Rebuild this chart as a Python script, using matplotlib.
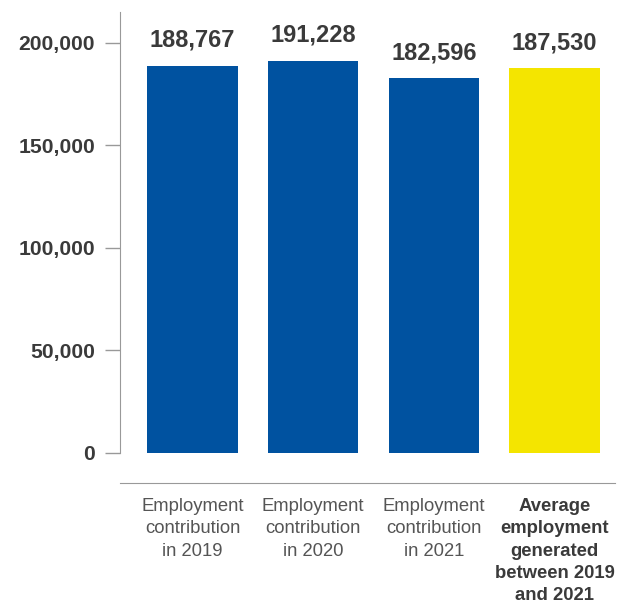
import matplotlib
matplotlib.use("Agg")
import matplotlib.pyplot as plt

categories = ["Employment\ncontribution\nin 2019",
              "Employment\ncontribution\nin 2020",
              "Employment\ncontribution\nin 2021",
              "Average\nemployment\ngenerated\nbetween 2019\nand 2021"]
values = [188767, 191228, 182596, 187530]
colors = ["#0052a0", "#0052a0", "#0052a0", "#f4e500"]
yticks = [0, 50000, 100000, 150000, 200000]

plt.rcParams['font.family'] = ['Liberation Sans', 'DejaVu Sans']
txt = "#3a3a3a"

fig = plt.figure(figsize=(6.23, 6.03), dpi=100)
ax = fig.add_axes([120/623, 1-453/603, (615-120)/623, (453-12)/603])

for s in ['top', 'right']:
    ax.spines[s].set_visible(False)
ax.spines['left'].set_color("#999999")
ax.spines['bottom'].set_color("#999999")
ax.spines['bottom'].set_position(('outward', 21.6))

x = list(range(len(values)))
bars = ax.bar(x, values, width=0.75, color=colors)
ax.bar_label(bars, labels=[f"{v:,}" for v in values], padding=10,
             fontsize=17, fontweight='bold', color=txt)

ax.set_xlim(-0.6, 3.5)
ax.set_ylim(0, 215000)
ax.set_yticks(yticks)
ax.set_yticklabels([f"{v:,}" for v in yticks], fontsize=15.2, fontweight='bold', color=txt)
ax.tick_params(axis='y', length=11, width=1, color="#999999", pad=7)

ax.set_xticks(x)
ax.tick_params(axis='x', length=0, pad=11)
ax.set_xticklabels(categories, fontsize=13.3, color="#555555", linespacing=1.4)
tl = ax.get_xticklabels()
tl[-1].set_fontweight('bold')
tl[-1].set_color(txt)

fig.savefig("out.png", dpi=100)
